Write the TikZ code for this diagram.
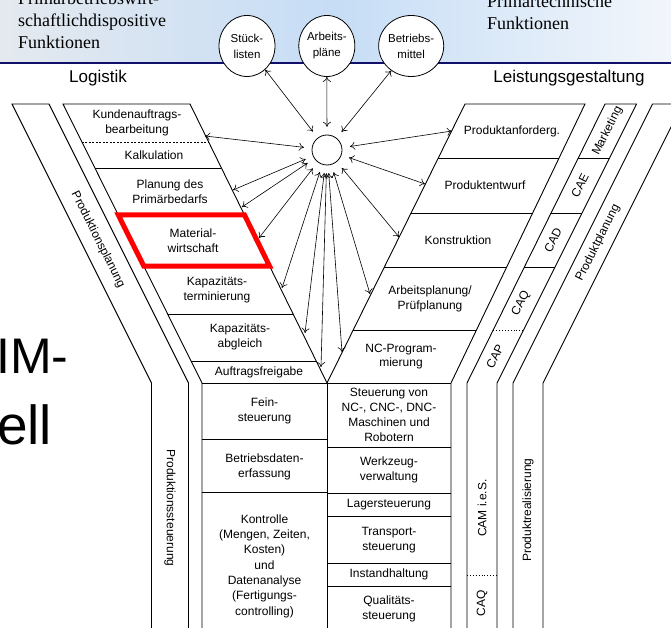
\documentclass[tikz,border=0pt]{standalone}
\usepackage{fontspec}
\setmainfont{Liberation Serif}
\setsansfont{Liberation Sans}
\usetikzlibrary{arrows.meta, shapes.geometric, positioning}
\tikzset{>={To[length=5pt,width=8pt]}}
\definecolor{hdrleft}{HTML}{E4E9EF}
\definecolor{hdrmid}{HTML}{C6DDF6}
\definecolor{hdrright}{HTML}{F2F6FB}
\definecolor{navyline}{HTML}{10106A}
\newcommand{\cellfont}{\sffamily\fontsize{12}{14.8}\selectfont}
\newcommand{\headfont}{\rmfamily\fontsize{18}{22}\selectfont}
\newcommand{\bigfont}{\sffamily\fontsize{50}{56}\selectfont}

\begin{document}
\begin{tikzpicture}[x=1pt, y=-1pt,
    frame/.style={line width=0.9pt},
    celltext/.style={font=\cellfont, align=center, inner sep=0pt},
    headtext/.style={font=\headfont, align=left, inner sep=0pt},
    armtitle/.style={font=\sffamily\fontsize{17}{20}\selectfont, inner sep=0pt},
    bigtext/.style={font=\bigfont, inner sep=0pt},
    store/.style={ellipse, draw, fill=white, line width=0.8pt, minimum width=56pt, minimum height=61pt, inner sep=0pt, align=center, font=\sffamily\fontsize{11.5}{16}\selectfont},
    link/.style={<->, line width=0.6pt},
    redbox/.style={draw=red, line width=5pt, line join=miter}]
  \useasboundingbox (0,0) rectangle (671,628);
  \clip (0,0) rectangle (671,628);

  % header band
  \shade[left color=hdrleft, right color=hdrright, middle color=hdrmid] (0,0) rectangle (671,62);
  \draw[navyline, line width=2.2pt] (0,63) -- (671,63);
  \node[headtext, anchor=north west] (hdleft) at (18,-8.5) {Primärbetriebswirt-\\schaftlichdispositive\\Funktionen};
  \node[headtext, anchor=north west] (hdright) at (487,-5.5) {Primärtechnische\\Funktionen};

  \node[armtitle] (logi) at (98,78) {Logistik};
  \node[armtitle] (leist) at (569,78) {Leistungsgestaltung};

  \node[bigtext, anchor=base west] (cim) at (-4,373) {IM-};
  \node[bigtext, font=\sffamily\fontsize{55}{60}\selectfont, anchor=base west] (modell) at (-3,444) {ell};

  % outlines of the Y
  \draw[frame] (151.5,628) -- (151.5,383) -- (12,104) -- (49,104) -- (188.5,383) -- (188.5,628);
  \draw[frame] (202,628) -- (202,383) -- (63,104) -- (190,104) -- (327,383) -- (465,104) -- (585,104) -- (451,383) -- (451,628);
  \draw[frame] (327,383) -- (327,628);
  \draw[frame] (202,383) -- (451,383);
  \draw[frame] (467,628) -- (467,383) -- (605,104) -- (636.5,104) -- (497,383) -- (497,628);
  \draw[frame] (513,628) -- (513,383) -- (652.5,104) -- (682.5,104) -- (543,383) -- (543,628);

  % rows, left arm and stem
  \draw[frame, dash pattern=on 2pt off 1.5pt] (81.9,142) -- (208.7,142);
  \draw[frame] (94.9,168) -- (221.4,168);
  \draw[frame] (143.7,266) -- (269.5,266);
  \draw[frame] (167.6,314) -- (293.1,314);
  \draw[frame] (191.0,361) -- (316.2,361);
  \draw[frame] (202,439) -- (327,439);
  \draw[frame] (202,492) -- (327,492);
  % rows, right arm and stem
  \draw[frame] (438.4,158) -- (559,158);
  \draw[frame] (411.2,213) -- (532.6,213);
  \draw[frame] (384.4,267) -- (506.7,267);
  \draw[frame] (353.2,330) -- (476.4,330);
  \draw[frame] (327,447) -- (451,447);
  \draw[frame] (327,493) -- (451,493);
  \draw[frame] (327,516) -- (451,516);
  \draw[frame] (327,563) -- (451,563);
  \draw[frame] (327,586) -- (451,586);
  % rows, CA strip
  \draw[frame] (578.4,158) -- (609.5,158);
  \draw[frame] (551.2,213) -- (582,213);
  \draw[frame] (524.4,267) -- (555,267);
  \draw[frame, dotted] (493.2,330) -- (523.5,330);
  \draw[frame, dotted] (467,575) -- (497,575);

  \draw[redbox] (118.3,215) -- (244.5,215) -- (269.5,266) -- (143.7,266) -- cycle;

  % data stores and hub
  \node[store] (stl) at (247,46) {Stück-\\listen};
  \node[store, right=23pt of stl] (apl) {Arbeits-\\pläne};
  \node[store, right=23pt of apl] (bmt) {Betriebs-\\mittel};
  \node[circle, draw, line width=0.8pt, minimum size=30pt, inner sep=0pt] (hubc) at (327,150) {};
  \node[circle, minimum size=46pt, inner sep=0pt] (hub) at (327,150) {};

  \coordinate (kundtip) at (205,136);
  \coordinate (plantipa) at (233,190);
  \coordinate (plantipb) at (242,207);
  \coordinate (mattip) at (259,238);
  \coordinate (kaptip) at (282,288);
  \coordinate (abgltip) at (305,333);
  \coordinate (freitip) at (321,367);
  \coordinate (nctip) at (342,352);
  \coordinate (arbtip) at (370,294);
  \coordinate (kontip) at (399,237);
  \coordinate (entwtip) at (425,184);
  \coordinate (anftip) at (452,131);
  \foreach \t in {stl,apl,bmt,kundtip,plantipa,plantipb,mattip,kaptip,abgltip,freitip,nctip,arbtip,kontip,entwtip,anftip}
    \draw[link] (hub) -- (\t);

  % texts, left arm
  \node[celltext] (kunde) at (137,123) {Kundenauftrags-\\bearbeitung};
  \node[celltext] (kalk) at (154,155) {Kalkulation};
  \node[celltext] (prim) at (170,192) {Planung des\\Primärbedarfs};
  \node[celltext] (matw) at (193,240.5) {Material-\\wirtschaft};
  \node[celltext] (kapt) at (217,290) {Kapazitäts-\\terminierung};
  \node[celltext] (kapa) at (240,337) {Kapazitäts-\\abgleich};
  \node[celltext] (afrei) at (259,372) {Auftragsfreigabe};
  % texts, left stem
  \node[celltext] (fein) at (264.5,411) {Fein-\\steuerung};
  \node[celltext] (bde) at (264.5,467) {Betriebsdaten-\\erfassung};
  \node[celltext, font=\sffamily\fontsize{12}{15.3}\selectfont] (kontr) at (264.5,566) {Kontrolle\\(Mengen, Zeiten,\\Kosten)\\und\\Datenanalyse\\(Fertigungs-\\controlling)};
  % texts, right arm
  \node[celltext] (anf) at (512,131) {Produktanforderg.};
  \node[celltext] (entw) at (485,185.5) {Produktentwurf};
  \node[celltext] (konst) at (458,240) {Konstruktion};
  \node[celltext] (arbpl) at (430,298.5) {Arbeitsplanung/\\Prüfplanung};
  \node[celltext] (ncp) at (401,356.5) {NC-Program-\\mierung};
  % texts, right stem
  \node[celltext] (nccnc) at (389,415) {Steuerung von\\NC-, CNC-, DNC-\\Maschinen und\\Robotern};
  \node[celltext] (wzv) at (389,470) {Werkzeug-\\verwaltung};
  \node[celltext] (lager) at (389,504.5) {Lagersteuerung};
  \node[celltext] (transp) at (389,540) {Transport-\\steuerung};
  \node[celltext] (instand) at (389,574.5) {Instandhaltung};
  \node[celltext] (qual) at (389,609) {Qualitäts-\\steuerung};
  % texts along the strips
  \node[celltext, rotate=-63.4] (pplan) at (98,240) {Produktionsplanung};
  \node[celltext, rotate=-90] (psteu) at (170,508) {Produktionssteuerung};
  \node[celltext, rotate=63.5] (mkt) at (607.5,131) {Marketing};
  \node[celltext, rotate=63.5] (cae) at (580,185.5) {CAE};
  \node[celltext, rotate=63.5] (cad) at (553,240) {CAD};
  \node[celltext, rotate=63.5] (caqa) at (521,303) {CAQ};
  \node[celltext, rotate=63.5] (cap) at (495,356.5) {CAP};
  \node[celltext, rotate=90] (cam) at (482,508) {CAM i.e.S.};
  \node[celltext, rotate=90] (caqb) at (482,603) {CAQ};
  \node[celltext, rotate=63.4] (prodpl) at (598,243) {Produktplanung};
  \node[celltext, rotate=90] (prodre) at (528,510) {Produktrealisierung};
\end{tikzpicture}
\end{document}
